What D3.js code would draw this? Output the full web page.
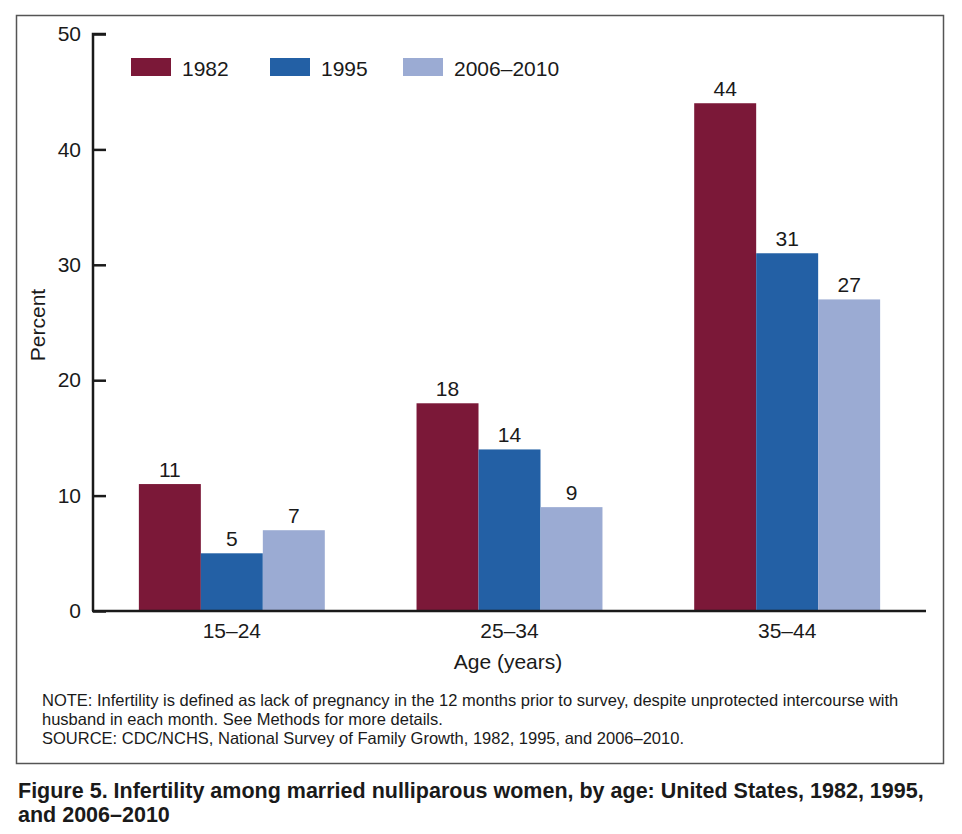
<!DOCTYPE html>
<html><head><meta charset="utf-8">
<script src="https://cdn.jsdelivr.net/npm/d3@7"></script>
<style>body{margin:0;background:#fff}svg{display:block}</style>
</head><body>
<script>
const categories = ["15–24", "25–34", "35–44"];
const seriesNames = ["1982", "1995", "2006–2010"];
const values1982 = [11, 18, 44];
const values1995 = [5, 14, 31];
const values2006 = [7, 9, 27];
const yTicks = [0, 10, 20, 30, 40, 50];
const colors = ["#7B1838", "#2360A5", "#9BABD3"];
const seriesValues = [values1982, values1995, values2006];

(function () {
const W = 962, H = 834;
const font = "'Liberation Sans', Arial, Helvetica, sans-serif";
const fs = 21;
const ink = "#1a1a1a";
const svg = d3.select("body").append("svg").attr("width", W).attr("height", H);

// frame
svg.append("rect").attr("x", 16.5).attr("y", 15.5).attr("width", 927).attr("height", 748)
  .attr("fill", "none").attr("stroke", "#555").attr("stroke-width", 1.5);

const pL = 93, pR = 926, pT = 34, pB = 611;
const y = d3.scaleLinear().domain([0, 50]).range([pB, pT]);
const x0 = d3.scaleBand().domain(categories).range([pL, pR]).padding(0);
const x1 = d3.scaleBand().domain(seriesNames).range([0, x0.bandwidth()]).paddingInner(0).paddingOuter(0.74);

// bars
const g = svg.append("g");
categories.forEach((c, ci) => {
  seriesNames.forEach((s, si) => {
    const v = seriesValues[si][ci];
    g.append("rect")
      .attr("x", x0(c) + x1(s))
      .attr("y", y(v))
      .attr("width", x1.bandwidth())
      .attr("height", y(0) - y(v))
      .attr("fill", colors[si]);
    g.append("text")
      .attr("x", x0(c) + x1(s) + x1.bandwidth() / 2)
      .attr("y", y(v) - 7)
      .attr("text-anchor", "middle")
      .attr("font-family", font).attr("font-size", fs).attr("fill", ink)
      .text(v);
  });
});

// y axis
const yAxis = d3.axisLeft(y).tickValues(yTicks).tickSize(-13).tickPadding(12);
const ya = svg.append("g").attr("transform", `translate(${pL},0)`).call(yAxis);
ya.select(".domain").attr("stroke", ink).attr("stroke-width", 2.5).attr("d", `M13,${pT}H0V${pB}`);
ya.selectAll(".tick line").attr("stroke", ink).attr("stroke-width", 2.5);
ya.selectAll(".tick text").attr("font-family", font).attr("font-size", fs).attr("fill", ink);

// x axis
const xAxis = d3.axisBottom(x0).tickSize(0).tickPadding(12);
const xa = svg.append("g").attr("transform", `translate(0,${pB})`).call(xAxis);
xa.select(".domain").attr("stroke", ink).attr("stroke-width", 2.5).attr("d", `M${pL - 1},0H${pR}`);
xa.selectAll(".tick text").attr("font-family", font).attr("font-size", fs).attr("fill", ink);

// axis titles
svg.append("text").attr("transform", `translate(45,325) rotate(-90)`)
  .attr("text-anchor", "middle").attr("font-family", font).attr("font-size", fs).attr("fill", ink)
  .text("Percent");
svg.append("text").attr("x", 508).attr("y", 669)
  .attr("text-anchor", "middle").attr("font-family", font).attr("font-size", fs).attr("fill", ink)
  .text("Age (years)");

// legend
const legX = [131, 270, 403];
seriesNames.forEach((s, i) => {
  svg.append("rect").attr("x", legX[i]).attr("y", 58).attr("width", 40).attr("height", 18).attr("fill", colors[i]);
  svg.append("text").attr("x", legX[i] + 51).attr("y", 76)
    .attr("font-family", font).attr("font-size", fs).attr("fill", ink).text(s);
});

// notes
const notes = [
  ["NOTE: Infertility is defined as lack of pregnancy in the 12 months prior to survey, despite unprotected intercourse with", 706],
  ["husband in each month. See Methods for more details.", 725],
  ["SOURCE: CDC/NCHS, National Survey of Family Growth, 1982, 1995, and 2006–2010.", 744]
];
notes.forEach(([t, yy]) => {
  svg.append("text").attr("x", 42).attr("y", yy).attr("font-family", font).attr("font-size", 16.5)
    .attr("fill", ink).text(t);
});

// title
[["Figure 5. Infertility among married nulliparous women, by age: United States, 1982, 1995,", 798],
 ["and 2006–2010", 822]].forEach(([t, yy]) => {
  svg.append("text").attr("x", 18).attr("y", yy).attr("font-family", font).attr("font-weight", "bold")
    .attr("font-size", 21.5).attr("fill", ink).text(t);
});
})();
</script>
</body></html>
